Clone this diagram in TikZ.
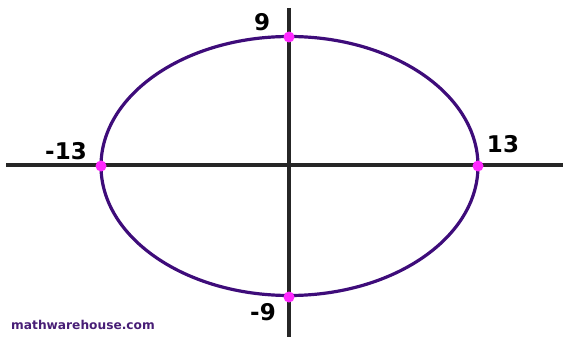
\documentclass[tikz,border=0pt]{standalone}
\usepackage{fontspec}
\setmainfont{DejaVu Sans}
\usepackage{tikz}
\usetikzlibrary{positioning}
\definecolor{mpurple}{RGB}{62,12,122}
\definecolor{mmagenta}{RGB}{255,40,255}
\definecolor{mlogo}{RGB}{72,30,118}

\begin{document}
\begin{tikzpicture}[x=1pt, y=-1pt,
    axis/.style={line width=3.2pt, black!85},
    curve/.style={line width=3.2pt, mpurple},
    dot/.style={circle, fill=mmagenta, inner sep=0pt, minimum size=11pt},
    num/.style={font=\fontsize{23}{25}\selectfont\bfseries, inner sep=0pt},
  ]
    \useasboundingbox (0,0) rectangle (563,337);

    % axes
    \coordinate (xl) at (6,165);
    \coordinate (xr) at (563,165);
    \coordinate (yt) at (289,8);
    \coordinate (yb) at (289,337);
    \draw[axis] (xl) -- (xr);
    \draw[axis] (yt) -- (yb);

    % ellipse
    \draw[curve] (289.5,166) ellipse [x radius=188.5, y radius=129.5];

    \node[dot] (L) at (101,166) {};
    \node[dot] (R) at (478,166) {};
    \node[dot] (T) at (289,37)  {};
    \node[dot] (B) at (289,297) {};

    \node[num] (lT) at (262,22)  {9};
    \node[num] (lB) at (263,312) {-9};
    \node[num] (lL) at (66,151)  {-13};
    \node[num] (lR) at (503,144) {13};

    \node[font=\fontsize{12.2}{13}\selectfont\bfseries, mlogo, inner sep=0pt] (logo) at (83,325) {mathwarehouse.com};
  \end{tikzpicture}
\end{document}
